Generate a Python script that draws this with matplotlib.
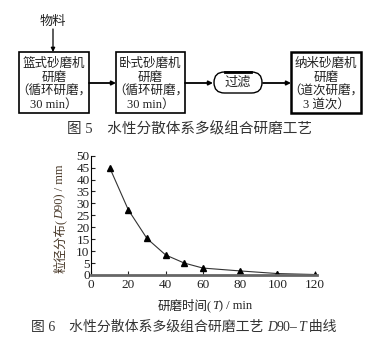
import numpy as np
import matplotlib
matplotlib.use('agg')
import matplotlib.pyplot as plt
from matplotlib.patches import Rectangle, FancyBboxPatch

plt.rcParams['font.family'] = ['Liberation Serif', 'Noto Sans CJK SC']

# data
grind_time = [10, 20, 30, 40, 50, 60, 80, 100, 120]
d90 = [45, 27.3, 15.3, 8.4, 5.0, 2.9, 1.7, 0.6, 0.2]
x_ticks = [0, 20, 40, 60, 80, 100, 120]
y_ticks = [0, 5, 10, 15, 20, 25, 30, 35, 40, 45, 50]

box_texts = ["篮式砂磨机\n研磨\n（循环研磨，\n30 min）",
             "卧式砂磨机\n研磨\n（循环研磨，\n30 min）",
             "纳米砂磨机\n研磨\n（道次研磨，\n3 道次）"]
filter_text = "过滤"
feed_text = "物料"
caption5 = "图 5　水性分散体系多级组合研磨工艺"

W, H = 389, 337
fig = plt.figure(figsize=(W / 100, H / 100), dpi=100)

# flowchart layer in pixel coordinates
fa = fig.add_axes([0, 0, 1, 1])
fa.set_xlim(0, W)
fa.set_ylim(H, 0)
fa.axis('off')

boxes = [(19, 52, 70, 61, 1.2), (116, 52, 69, 61, 1.2), (291, 52, 70, 61, 1.8)]
for (bx, by, bw, bh, lw), txt in zip(boxes, box_texts):
    fa.add_patch(Rectangle((bx, by), bw, bh, fill=False, lw=lw, ec='black'))
    fa.text(bx + bw / 2, by + bh / 2 + 2, txt, ha='center', va='center',
            fontsize=9, linespacing=1.2, color='#222222')

# oval filter block
fa.add_patch(FancyBboxPatch((214, 72), 48, 21, boxstyle="round,pad=0,rounding_size=10.5",
                            fill=False, lw=1.0, ec='black'))
fa.plot([225, 251], [72, 72], color='black', lw=2)
fa.text(238, 83, filter_text, ha='center', va='center', fontsize=9.5, color='#222222')

arrow_kw = dict(arrowstyle='-|>', color='black', lw=1.3, mutation_scale=6,
                shrinkA=0, shrinkB=0)
fa.annotate('', xy=(116, 83), xytext=(89, 83), arrowprops=arrow_kw)
fa.annotate('', xy=(213, 83), xytext=(185, 83), arrowprops=arrow_kw)
fa.annotate('', xy=(291, 83), xytext=(263, 83), arrowprops=arrow_kw)
fa.annotate('', xy=(53, 52), xytext=(53, 29), arrowprops=dict(arrow_kw, lw=0.9))
fa.text(53, 22, feed_text, ha='center', va='center', fontsize=9.5, color='#222222')
fa.text(190, 129, caption5, ha='center', va='center', fontsize=10.5, color='#333333')

# chart
ax = fig.add_axes([0.234, 0.184, 0.580, 0.354])
ax.plot(grind_time, d90, color='#333333', lw=0.8, marker='^', ms=5,
        mfc='black', mec='black')
ax.set_xlim(0, 121)
ax.set_ylim(0, 50)
ax.set_xticks(x_ticks)
ax.set_yticks(y_ticks)
ax.spines['top'].set_visible(False)
ax.spines['right'].set_visible(False)
ax.spines['left'].set_linewidth(0.8)
ax.spines['bottom'].set_linewidth(2)
ax.spines['bottom'].set_color('#666666')
ax.tick_params(direction='in', length=3, width=0.8, labelsize=9.5, pad=1,
               colors='#222222')
ax.tick_params(axis='x', pad=3)


def chain(parts, x, y, vertical=False, color='#222222', fontsize=9):
    # text pieces placed one after another, italic where asked
    prev = None
    for s, italic in parts:
        kw = dict(fontsize=fontsize, style='italic' if italic else 'normal', color=color)
        if vertical:
            kw.update(rotation=90, ha='center', va='bottom')
            if prev is None:
                prev = fig.text(x, y, s, **kw)
            else:
                prev = fa.annotate(s, xy=(0.5, 1), xycoords=prev, **kw)
        else:
            if prev is None:
                prev = fig.text(x, y, s, ha='left', va='bottom', **kw)
            else:
                prev = fa.annotate(s, xy=(1, 0), xycoords=prev, ha='left', va='bottom', **kw)
    return prev


chain([("粒径分布(", False), ("D", True), ("90) / mm", False)],
      60 / W, 1 - 273 / H, vertical=True, color='#4a3a2a', fontsize=9)
chain([("研磨时间(", False), ("T", True), (") / min", False)],
      158 / W, 1 - 312 / H, fontsize=9)
chain([("图 6　水性分散体系多级组合研磨工艺 ", False), ("D", True), ("90–", False),
       ("T", True), ("\u2009曲线", False)],
      31 / W, 1 - 334 / H, color='#333333', fontsize=10)

fig.savefig('out.png', dpi=100)
